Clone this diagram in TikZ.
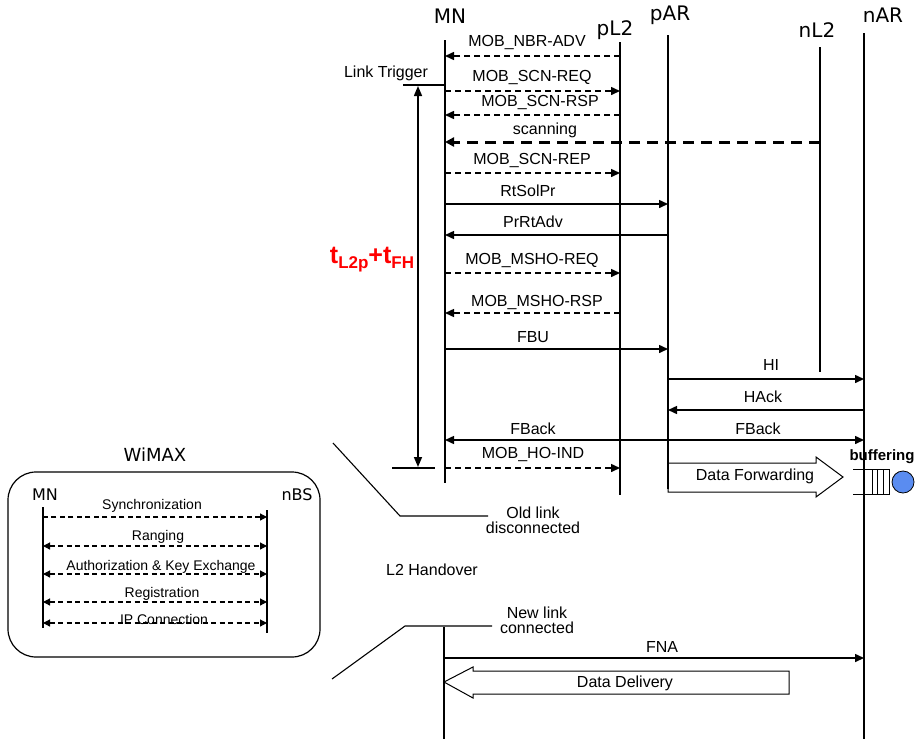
\documentclass[tikz,border=0pt]{standalone}
\usepackage{fontspec}
\setmainfont{Liberation Sans}
\newfontfamily\hdfont{DejaVu Sans}
\usetikzlibrary{arrows.meta}
\definecolor{bufblue}{RGB}{90,140,240}

\begin{document}
\begin{tikzpicture}[x=1pt,y=-1pt,
  life/.style={line width=1.6pt},
  msg/.style={line width=1.5pt,-{Triangle[length=9pt,width=8pt]}},
  dmsg/.style={msg,dash pattern=on 6pt off 4pt},
  dbl/.style={line width=1.5pt,{Triangle[length=9pt,width=8pt]}-{Triangle[length=9pt,width=8pt]}},
  scan/.style={line width=3pt,dash pattern=on 11pt off 7pt,-{Triangle[length=9pt,width=9pt]}},
  wmsg/.style={line width=1.2pt,dash pattern=on 5pt off 3.5pt,{Triangle[length=7pt,width=7pt]}-{Triangle[length=7pt,width=7pt]}},
  lbl/.style={font=\fontsize{16}{15}\selectfont,inner sep=0pt,align=center},
  wlbl/.style={font=\fontsize{14}{14}\selectfont,inner sep=0pt},
  hdr/.style={font=\hdfont\fontsize{20}{20}\selectfont,inner sep=0pt},
  note/.style={line width=1.1pt}]
  \useasboundingbox (0,0) rectangle (917,739);

  % lifelines
  \node[hdr] (MNh) at (450,16) {MN};
  \node[hdr] (pL2h) at (615,30) {pL2};
  \node[hdr] (pARh) at (670,15) {pAR};
  \node[hdr] (nL2h) at (817,30) {nL2};
  \node[hdr] (nARh) at (883,15) {nAR};
  \coordinate (mn) at (445,40);   \coordinate (mnend) at (445,483);
  \coordinate (mnlow) at (444,627); \coordinate (mnlowend) at (444,739);
  \coordinate (pl2) at (620,42);  \coordinate (pl2end) at (620,495);
  \coordinate (par) at (668,35);  \coordinate (parend) at (668,489);
  \coordinate (nl2) at (820,47);  \coordinate (nl2end) at (820,372);
  \coordinate (nar) at (864,33);  \coordinate (narend) at (864,739);
  \draw[life] (mn) -- (mnend);
  \draw[life] (mnlow) -- (mnlowend);
  \draw[life] (pl2) -- (pl2end);
  \draw[life] (par) -- (parend);
  \draw[life] (nl2) -- (nl2end);
  \draw[life] (nar) -- (narend);

  % messages
  \draw[dmsg] (pl2 |- 0,56) -- (mn |- 0,56);   \node[lbl] (nbradv) at (527,43) {MOB\_NBR-ADV};
  \draw[dmsg] (mn |- 0,91) -- (pl2 |- 0,91);   \node[lbl] (scnreq) at (532,78) {MOB\_SCN-REQ};
  \draw[dmsg] (pl2 |- 0,115) -- (mn |- 0,115); \node[lbl] (scnrsp) at (540,103) {MOB\_SCN-RSP};
  \draw[scan] (nl2 |- 0,142) -- (mn |- 0,142); \node[lbl] (scanning) at (545,130) {scanning};
  \draw[dmsg] (mn |- 0,173) -- (pl2 |- 0,173); \node[lbl] (scnrep) at (532,160) {MOB\_SCN-REP};
  \draw[msg] (mn |- 0,204) -- (par |- 0,204);  \node[lbl] (rtsolpr) at (528,191) {RtSolPr};
  \draw[msg] (par |- 0,235) -- (mn |- 0,235);  \node[lbl] (prrtadv) at (533,222) {PrRtAdv};
  \draw[dmsg] (mn |- 0,273) -- (pl2 |- 0,273); \node[lbl] (mshoreq) at (532,260) {MOB\_MSHO-REQ};
  \draw[dmsg] (pl2 |- 0,313) -- (mn |- 0,313); \node[lbl] (mshorsp) at (537,302) {MOB\_MSHO-RSP};
  \draw[msg] (mn |- 0,349) -- (par |- 0,349);  \node[lbl] (fbu) at (533,337) {FBU};
  \draw[msg] (par |- 0,379) -- (nar |- 0,379); \node[lbl] (hi) at (771,365) {HI};
  \draw[msg] (nar |- 0,410) -- (par |- 0,410); \node[lbl] (hack) at (763,397) {HAck};
  \draw[dbl] (mn |- 0,440) -- (nar |- 0,440);  \node[lbl] (fback) at (533,429) {FBack};
  \node[lbl] (fback2) at (758,429) {FBack};
  \draw[dmsg] (mn |- 0,468) -- (pl2 |- 0,468); \node[lbl] (hoind) at (533,454) {MOB\_HO-IND};
  \draw[msg] (mnlow |- 0,658) -- (nar |- 0,658); \node[lbl] (fna) at (662,647) {FNA};

  % link trigger and handover delay
  \node[lbl] (trigger) at (386,73) {Link Trigger};
  \coordinate (trigl) at (403,85);
  \draw[note] (trigl) -- (mn |- trigl);
  \coordinate (hol) at (392,468); \coordinate (hor) at (435,468);
  \draw[note] (hol) -- (hor);
  \coordinate (ttop) at (418,86); \coordinate (tbot) at (418,467);
  \draw[line width=1.5pt,{Triangle[length=10pt,width=8pt]}-{Triangle[length=10pt,width=8pt]}] (ttop) -- (tbot);
  \node[red,font=\bfseries\fontsize{25}{25}\selectfont,inner sep=0pt] (tsum) at (372,260)
    {t\raisebox{-5pt}{\fontsize{17}{17}\selectfont L2p}+t\raisebox{-5pt}{\fontsize{17}{17}\selectfont FH}};

  % data forwarding and buffering
  \draw[line width=1pt] (668,463) -- (816,463) -- (816,457) -- (843,477) -- (816,497) -- (816,492) -- (668,492) -- cycle;
  \node[lbl] (fwd) at (755,476) {Data Forwarding};
  \node[lbl,font=\bfseries\fontsize{15}{15}\selectfont] (buf) at (882,457) {buffering};
  \draw[line width=1pt] (853,469) -- (890,469) (853,494) -- (890,494);
  \foreach \qx in {872,877,883,889}
    \draw[line width=1pt] (\qx,469) -- (\qx,494);
  \draw[fill=bufblue,line width=0.8pt] (903,482) circle (11);

  % link events
  \draw[note] (333,443) -- (400,516) -- (488,516);
  \node[lbl] (oldlink) at (533,520) {Old link\\disconnected};
  \node[lbl] (l2ho) at (432,570) {L2 Handover};
  \draw[note] (332,679) -- (405,626) -- (492,626);
  \node[lbl] (newlink) at (537,620) {New link\\connected};

  % data delivery
  \draw[line width=1pt] (mnlow |- 0,682) -- (473,667) -- (473,671) -- (789,671) -- (789,694) -- (473,694) -- (473,698) -- cycle;
  \node[lbl] (deliv) at (625,683) {Data Delivery};

  % WiMAX inset
  \node[hdr,font=\hdfont\fontsize{18}{18}\selectfont] (wimax) at (155,455) {WiMAX};
  \draw[line width=1.2pt,rounded corners=28] (8,472) rectangle (320,657);
  \node[hdr,font=\hdfont\fontsize{16}{16}\selectfont] (wmn) at (45,495) {MN};
  \node[hdr,font=\hdfont\fontsize{16}{16}\selectfont] (wbs) at (297,495) {nBS};
  \coordinate (wm) at (43,507);  \coordinate (wmend) at (43,628);
  \coordinate (wb) at (267,510); \coordinate (wbend) at (267,633);
  \draw[line width=2.2pt] (wm) -- (wmend);
  \draw[line width=2.2pt] (wb) -- (wbend);
  \draw[wmsg,{Triangle[length=7pt,width=7pt]}-] (wb |- 0,517) -- (wm |- 0,517); \node[wlbl] (sync) at (152,506) {Synchronization};
  \draw[wmsg] (wm |- 0,546) -- (wb |- 0,546); \node[wlbl] (rang) at (158,537) {Ranging};
  \draw[wmsg] (wm |- 0,574) -- (wb |- 0,574); \node[wlbl] (auth) at (161,567) {Authorization \& Key Exchange};
  \draw[wmsg] (wm |- 0,602) -- (wb |- 0,602); \node[wlbl] (reg) at (162,594) {Registration};
  \draw[wmsg] (wm |- 0,623) -- (wb |- 0,623); \node[wlbl] (ipc) at (164,619) {IP Connection};
\end{tikzpicture}
\end{document}
